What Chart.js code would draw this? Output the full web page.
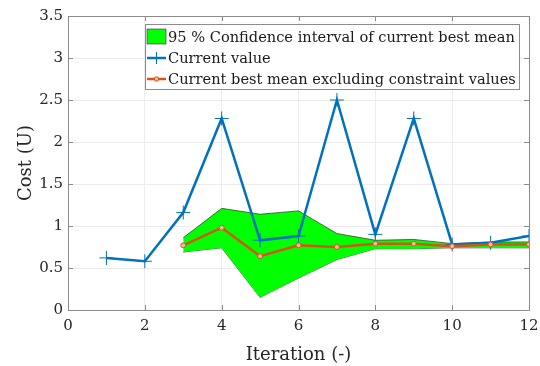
<!DOCTYPE html>
<html>
<head>
<meta charset="utf-8">
<script src="https://cdn.jsdelivr.net/npm/chart.js@4/dist/chart.umd.min.js"></script>
<style>
  html, body { margin: 0; padding: 0; background: #fff; }
  #wrap { width: 540px; height: 366px; }
</style>
</head>
<body>
<div id="wrap"><canvas id="cost"></canvas></div>
<script>
// iterations and costs
var iterations = [1, 2, 3, 4, 5, 6, 7, 8, 9, 10, 11, 12];
var currentValue = [0.62, 0.58, 1.16, 2.28, 0.83, 0.88, 2.50, 0.90, 2.28, 0.78, 0.80, 0.88];

var bestIter = [3, 4, 5, 6, 7, 8, 9, 10, 11, 12];
var bestMean = [0.77, 0.98, 0.64, 0.77, 0.75, 0.79, 0.79, 0.76, 0.78, 0.78];
var ciUpper = [0.86, 1.21, 1.14, 1.18, 0.91, 0.83, 0.84, 0.79, 0.81, 0.81];
var ciLower = [0.69, 0.74, 0.15, 0.38, 0.60, 0.73, 0.73, 0.74, 0.74, 0.74];

var xTicks = [0, 2, 4, 6, 8, 10, 12];
var yTicks = [0, 0.5, 1, 1.5, 2, 2.5, 3, 3.5];

var legendLabels = [
  '95 % Confidence interval of current best mean',
  'Current value',
  'Current best mean excluding constraint values'
];

var BLUE = '#0072BD';
var ORANGE = '#D95319';
var GREEN = '#00FF00';
var FONT = '"DejaVu Serif", "Liberation Serif", serif';

function pts(xs, ys) {
  return xs.map(function (x, i) { return { x: x, y: ys[i] }; });
}

// box around the axes with inward tick marks, plus the legend
var frame = {
  id: 'frame',
  afterDraw: function (chart) {
    var c = chart.ctx, a = chart.chartArea;
    var xs = chart.scales.x, ys = chart.scales.y;
    c.save();
    c.strokeStyle = '#8c8c8c';
    c.lineWidth = 1;
    c.strokeRect(a.left + 0.5, a.top + 0.5, a.right - a.left, a.bottom - a.top);
    c.beginPath();
    xTicks.forEach(function (t) {
      var px = Math.round(xs.getPixelForValue(t)) + 0.5;
      c.moveTo(px, a.bottom); c.lineTo(px, a.bottom - 5);
      c.moveTo(px, a.top); c.lineTo(px, a.top + 5);
    });
    yTicks.forEach(function (t) {
      var py = Math.round(ys.getPixelForValue(t)) + 0.5;
      c.moveTo(a.left, py); c.lineTo(a.left + 5, py);
      c.moveTo(a.right, py); c.lineTo(a.right - 5, py);
    });
    c.stroke();

    // legend
    var lx = 145, ly = 24, lw = 374, lh = 65;
    c.fillStyle = '#fff';
    c.fillRect(lx, ly, lw, lh);
    c.strokeStyle = '#8c8c8c';
    c.strokeRect(lx + 0.5, ly + 0.5, lw, lh);
    var rows = [37, 58, 79];
    c.fillStyle = GREEN;
    c.fillRect(147, 29, 19, 15);
    c.strokeStyle = '#333';
    c.lineWidth = 0.6;
    c.strokeRect(147, 29, 19, 15);

    c.lineWidth = 2.5;
    c.strokeStyle = BLUE;
    c.beginPath(); c.moveTo(147, rows[1]); c.lineTo(166, rows[1]); c.stroke();
    c.lineWidth = 1;
    c.beginPath();
    c.moveTo(156.5, rows[1] - 6); c.lineTo(156.5, rows[1] + 6);
    c.stroke();

    c.lineWidth = 2.5;
    c.strokeStyle = ORANGE;
    c.beginPath(); c.moveTo(147, rows[2]); c.lineTo(166, rows[2]); c.stroke();
    c.lineWidth = 1;
    c.fillStyle = '#f4b79a';
    c.beginPath(); c.arc(156.5, rows[2], 2.2, 0, Math.PI * 2); c.fill(); c.stroke();

    c.fillStyle = '#1a1a1a';
    c.font = '14.6px ' + FONT;
    c.textBaseline = 'middle';
    legendLabels.forEach(function (t, i) { c.fillText(t, 168, rows[i] + 1); });
    c.restore();
  }
};

var chart = new Chart(document.getElementById('cost'), {
  type: 'line',
  data: {
    datasets: [{
      label: 'lower',
      data: pts(bestIter, ciLower),
      borderColor: '#2e4d2e',
      borderWidth: 0.8,
      pointRadius: 0,
      fill: false,
      order: 3
    }, {
      label: legendLabels[0],
      data: pts(bestIter, ciUpper),
      borderColor: '#2e4d2e',
      borderWidth: 0.8,
      backgroundColor: GREEN,
      pointRadius: 0,
      fill: '-1',
      order: 2
    }, {
      label: legendLabels[1],
      data: pts(iterations, currentValue),
      borderColor: BLUE,
      borderWidth: 2.5,
      pointStyle: 'cross',
      pointRadius: 7,
      pointBorderWidth: 1,
      pointBorderColor: BLUE,
      fill: false,
      order: 1
    }, {
      label: legendLabels[2],
      data: pts(bestIter, bestMean),
      borderColor: ORANGE,
      borderWidth: 2.5,
      pointStyle: 'circle',
      pointRadius: 2.5,
      pointBorderWidth: 1,
      pointBorderColor: ORANGE,
      pointBackgroundColor: '#f4b79a',
      fill: false,
      order: 0
    }]
  },
  options: {
    responsive: true,
    maintainAspectRatio: false,
    animation: false,
    layout: { padding: { top: 16, right: 11, left: 16, bottom: 0 } },
    plugins: {
      legend: { display: false },
      tooltip: { enabled: false }
    },
    scales: {
      x: {
        type: 'linear',
        min: 0,
        max: 12,
        afterBuildTicks: function (s) { s.ticks = xTicks.map(function (v) { return { value: v }; }); },
        afterFit: function (s) { s.height = 56; s.paddingLeft = 0; s.paddingRight = 0; },
        grid: { color: '#ececec', drawTicks: false },
        border: { display: false },
        ticks: { padding: 7, color: '#262626', font: { family: FONT, size: 15 }, maxRotation: 0 },
        title: { display: true, text: 'Iteration (-)', color: '#262626', padding: { top: 0, bottom: 0 }, font: { family: FONT, size: 18 } }
      },
      y: {
        type: 'linear',
        min: 0,
        max: 3.5,
        afterBuildTicks: function (s) { s.ticks = yTicks.map(function (v) { return { value: v }; }); },
        afterFit: function (s) { s.width = 52; },
        grid: { color: '#ececec', drawTicks: false },
        border: { display: false },
        ticks: {
          padding: 5, color: '#262626', font: { family: FONT, size: 15 },
          callback: function (v) { return String(v); }
        },
        title: { display: true, text: 'Cost (U)', color: '#262626', padding: { top: 0, bottom: 0 }, font: { family: FONT, size: 18 } }
      }
    }
  },
  plugins: [frame]
});
</script>
</body>
</html>
